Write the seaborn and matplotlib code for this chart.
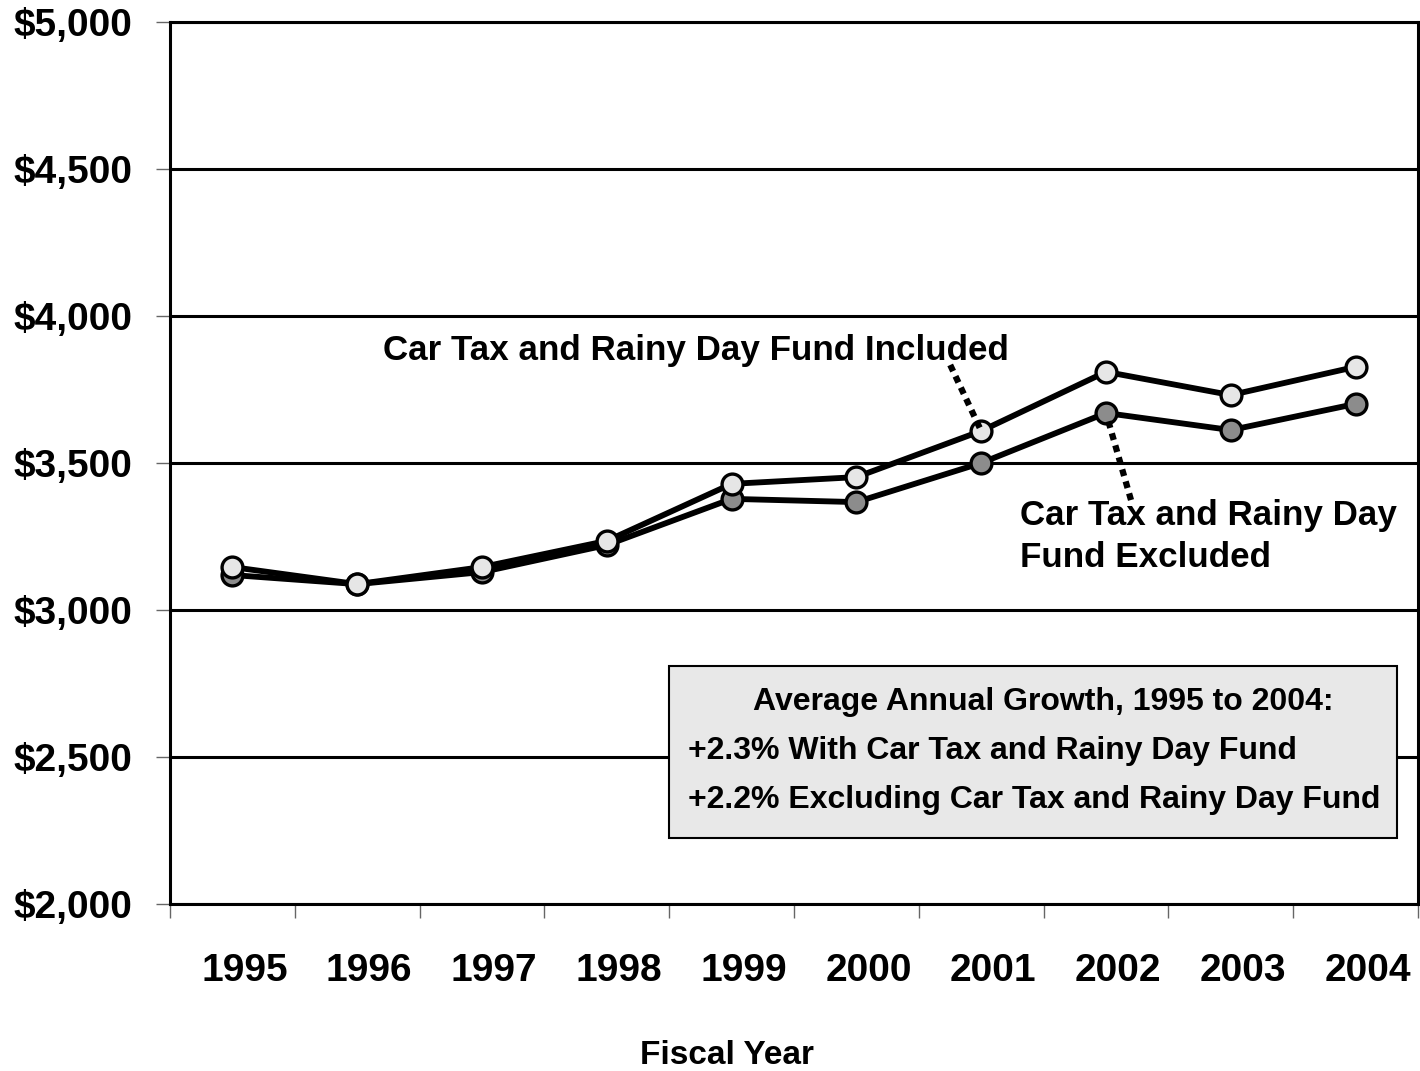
import matplotlib.pyplot as plt
import matplotlib.transforms as mtransforms
from matplotlib.patches import Rectangle
import pandas as pd
import seaborn as sns

sns.set_style('white')
plt.rcParams['font.family'] = ['Liberation Sans', 'DejaVu Sans']
plt.rcParams['font.weight'] = 'bold'
plt.rcParams['text.color'] = 'black'
plt.rcParams['xtick.color'] = 'black'
plt.rcParams['ytick.color'] = 'black'
plt.rcParams['xtick.labelcolor'] = 'black'
plt.rcParams['ytick.labelcolor'] = 'black'

years = ['1995', '1996', '1997', '1998', '1999', '2000', '2001', '2002', '2003', '2004']
included = [3146, 3088, 3146, 3235, 3429, 3452, 3609, 3810, 3731, 3827]
excluded = [3119, 3088, 3129, 3221, 3378, 3367, 3500, 3670, 3612, 3701]
y_ticks = [2000, 2500, 3000, 3500, 4000, 4500, 5000]

df = pd.DataFrame({'pos': range(len(years)), 'year': years,
                   'included': included, 'excluded': excluded})

fig = plt.figure(figsize=(14.2, 10.71), dpi=100)
ax = fig.add_axes([0.1197, 0.1559, 0.8789, 0.8236])

line_kw = dict(color='black', linewidth=4.2, marker='o', markersize=15,
               markeredgecolor='black', markeredgewidth=2.4, zorder=4)
sns.lineplot(data=df, x='pos', y='excluded', ax=ax, markerfacecolor='#8c8c8c', **line_kw)
sns.lineplot(data=df, x='pos', y='included', ax=ax, markerfacecolor='#e6e6e6', **line_kw)

ax.set_xlim(-0.5, len(years) - 0.5)
ax.set_ylim(2000, 5000)

# y axis
ax.set_yticks(y_ticks)
ax.set_yticklabels([f'${v:,}' for v in y_ticks], fontsize=28, fontweight='bold')
ax.tick_params(axis='y', which='major', direction='out', length=10, width=1,
               color='#666666', pad=17, left=True)
ax.grid(axis='y', color='black', lw=2.2, zorder=1)
ax.set_axisbelow(True)

# x axis: marks at category edges, labels at centres (nudged right)
ax.set_xticks([i - 0.5 for i in range(len(years) + 1)])
ax.set_xticklabels([])
ax.set_xticks(range(len(years)), minor=True)
ax.set_xticklabels(years, minor=True, fontsize=28, fontweight='bold')
ax.tick_params(axis='x', which='major', direction='out', length=10, width=1,
               color='#666666', bottom=True)
ax.tick_params(axis='x', which='minor', length=0, pad=35)
shift = mtransforms.ScaledTranslation(12 / 100, 0, fig.dpi_scale_trans)
for lab in ax.get_xticklabels(minor=True):
    lab.set_transform(lab.get_transform() + shift)

for side in ['left', 'right', 'top', 'bottom']:
    ax.spines[side].set_visible(True)
    ax.spines[side].set_color('black')
    ax.spines[side].set_linewidth(2.2)

ax.set_xlabel('')
ax.set_ylabel('')
fig.text(0.5123, 1 - 1055 / 1071, 'Fiscal Year', ha='center', va='center',
         fontsize=24, fontweight='bold')

# series annotations
dot = dict(arrowstyle='-', color='black', lw=4.5, ls=(0, (1.1, 0.9)),
           capstyle='butt', shrinkA=0)
ax.text(0.1707, 0.628, 'Car Tax and Rainy Day Fund Included', transform=ax.transAxes,
        ha='left', va='center', fontsize=25.2, fontweight='bold')
ax.annotate('', xy=(6, included[6]), xytext=(-31, 66), textcoords='offset pixels',
            arrowprops=dict(dot, shrinkB=0), zorder=5)
ax.text(0.681, 0.4167, 'Car Tax and Rainy Day\nFund Excluded', transform=ax.transAxes,
        ha='left', va='center', fontsize=25.2, fontweight='bold', linespacing=1.35)
ax.annotate('', xy=(7, excluded[7]), xytext=(25, -87), textcoords='offset pixels',
            arrowprops=dict(dot, shrinkB=6), zorder=5)

# growth box
ax.add_patch(Rectangle((0.3998, 0.0748), 0.5833, 0.195, transform=ax.transAxes,
                       facecolor='#e8e8e8', edgecolor='black', lw=1.5, zorder=3))
ax.text(0.6995, 0.229, 'Average Annual Growth, 1995 to 2004:', transform=ax.transAxes,
        ha='center', va='center', fontsize=23, fontweight='bold', zorder=6)
ax.text(0.415, 0.1735, '+2.3% With Car Tax and Rainy Day Fund', transform=ax.transAxes,
        ha='left', va='center', fontsize=23, fontweight='bold', zorder=6)
ax.text(0.415, 0.118, '+2.2% Excluding Car Tax and Rainy Day Fund', transform=ax.transAxes,
        ha='left', va='center', fontsize=23, fontweight='bold', zorder=6)

fig.savefig('out.png', dpi=100)
